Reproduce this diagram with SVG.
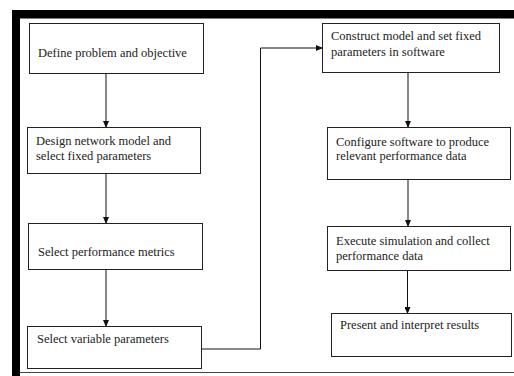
<svg xmlns="http://www.w3.org/2000/svg" width="514" height="376" viewBox="0 0 514 376">
<style>
.box{fill:#fff;stroke:#222;stroke-width:1}
.t{font-family:"Liberation Serif","Times New Roman",serif;font-size:12.5px;fill:#222}
.c{fill:none;stroke:#111;stroke-width:1}
</style>
<defs>
<marker id="ah" markerWidth="7" markerHeight="6" refX="6" refY="3" orient="auto" markerUnits="userSpaceOnUse">
<path d="M0,0 L7,3 L0,6 Z" fill="#111"/>
</marker>
</defs>
<rect width="514" height="376" fill="#fff"/>
<g id="frame">
<rect x="12" y="10" width="502" height="8.5" fill="#000"/>
<rect x="12" y="10" width="8" height="366" fill="#000"/>
<line x1="20" y1="372.5" x2="514" y2="372.5" stroke="#444" stroke-width="1"/>
</g>
<g id="connectors">
<line class="c" x1="106" y1="74" x2="106" y2="127" marker-end="url(#ah)"/>
<line class="c" x1="106" y1="174" x2="106" y2="223" marker-end="url(#ah)"/>
<line class="c" x1="106" y1="270" x2="106" y2="326" marker-end="url(#ah)"/>
<polyline class="c" points="202,349 260.5,349 260.5,48 322,48" marker-end="url(#ah)"/>
<line class="c" x1="408" y1="73" x2="408" y2="127" marker-end="url(#ah)"/>
<line class="c" x1="408" y1="180" x2="408" y2="226" marker-end="url(#ah)"/>
<line class="c" x1="407.5" y1="271" x2="407.5" y2="313" marker-end="url(#ah)"/>
</g>
<g id="n1"><rect class="box" x="29.5" y="23.5" width="174" height="50"/><text class="t" x="38" y="57">Define problem and objective</text></g>
<g id="n2"><rect class="box" x="27.5" y="127.5" width="173" height="46"/><text class="t" x="36" y="145">Design network model and</text><text class="t" x="36" y="160">select fixed parameters</text></g>
<g id="n3"><rect class="box" x="28.5" y="223.5" width="174" height="46"/><text class="t" x="38" y="256">Select performance metrics</text></g>
<g id="n4"><rect class="box" x="27.5" y="326.5" width="174" height="42"/><text class="t" x="37" y="343">Select variable parameters</text></g>
<g id="n5"><rect class="box" x="322.5" y="23.5" width="177" height="49"/><text class="t" x="331" y="40">Construct model and set fixed</text><text class="t" x="331" y="56">parameters in software</text></g>
<g id="n6"><rect class="box" x="327.5" y="127.5" width="183" height="52"/><text class="t" x="336" y="146">Configure software to produce</text><text class="t" x="336" y="160">relevant performance data</text></g>
<g id="n7"><rect class="box" x="327.5" y="226.5" width="183" height="44"/><text class="t" x="336" y="245">Execute simulation and collect</text><text class="t" x="336" y="260">performance data</text></g>
<g id="n8"><rect class="box" x="331.5" y="313.5" width="180" height="43"/><text class="t" x="340" y="329">Present and interpret results</text></g>
</svg>
